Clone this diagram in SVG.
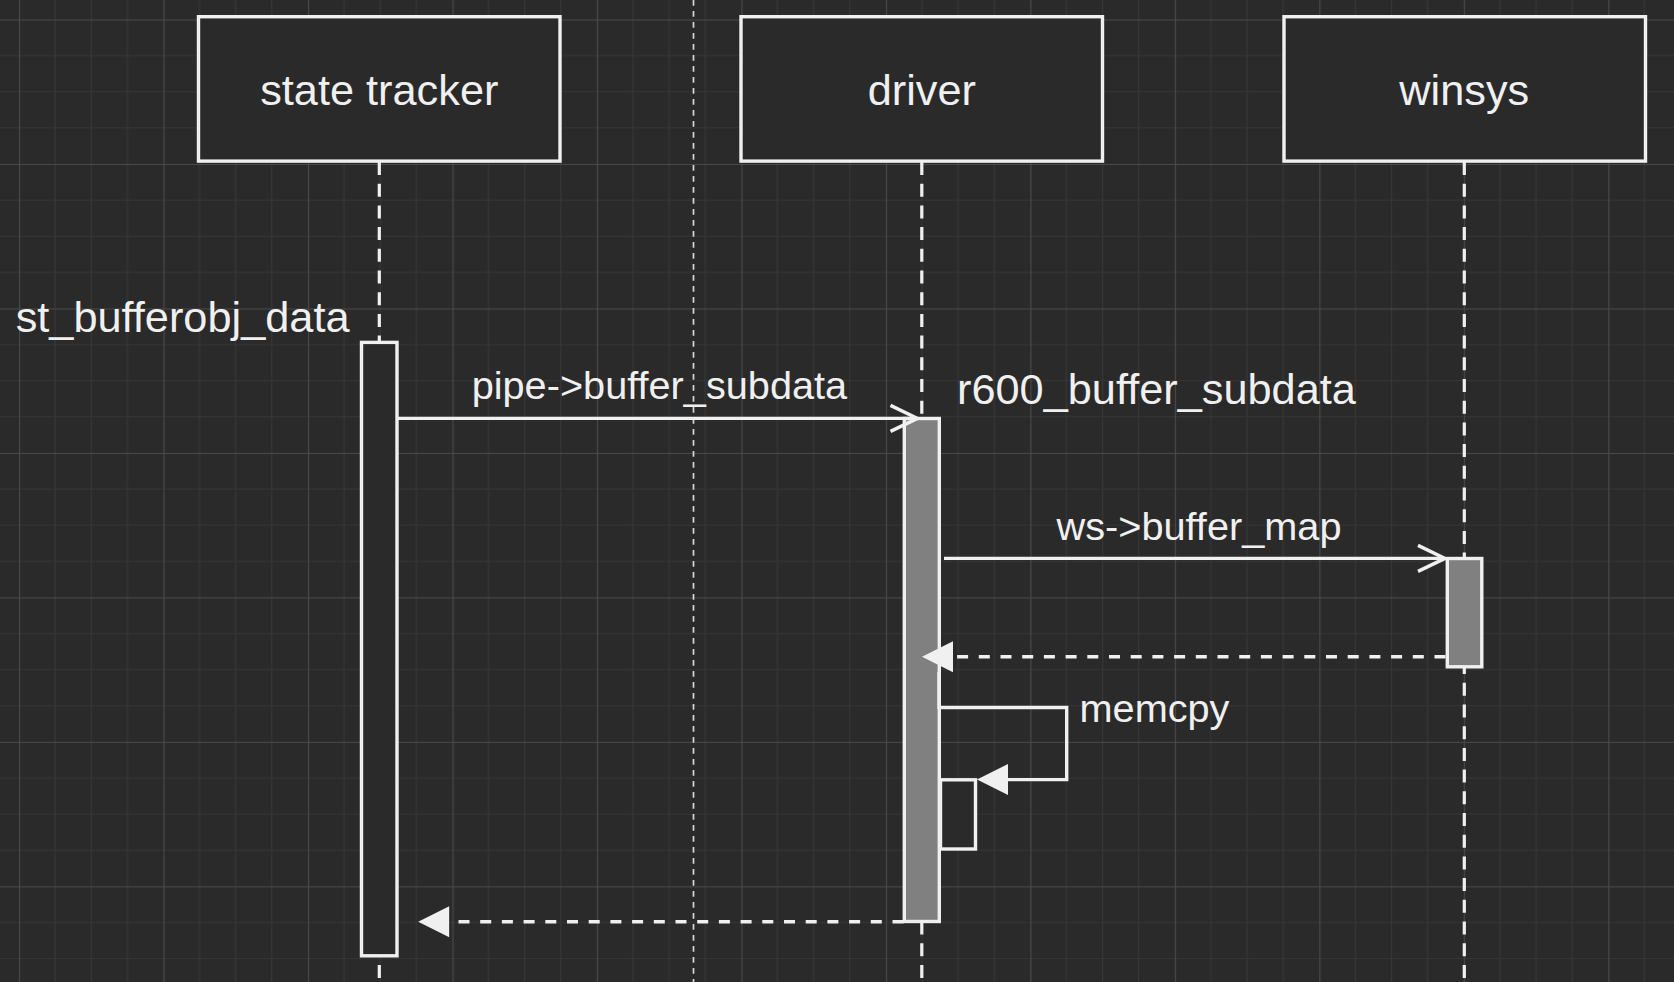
<svg xmlns="http://www.w3.org/2000/svg" width="1674" height="982" viewBox="0 0 1674 982">
<style>
  .box { fill: #2a2a2a; stroke: #f0f0f0; stroke-width: 3.4; }
  .bar { fill: #2a2a2a; stroke: #f0f0f0; stroke-width: 3.4; }
  .bar.gray { fill: #808080; }
  .life { stroke: #f0f0f0; stroke-width: 3.2; stroke-dasharray: 13 8.7; fill: none; }
  .msg { stroke: #f0f0f0; stroke-width: 3.4; fill: none; }
  .ret { stroke: #f0f0f0; stroke-width: 3.4; fill: none; stroke-dasharray: 11 10.7; }
  .guide { stroke: #d8d8d8; stroke-width: 1.7; stroke-dasharray: 5.7 5.3; fill: none; }
  .t { font-family: "Liberation Sans", Arial, Helvetica, sans-serif; fill: #f0f0f0; }
  .big { font-size: 43.3px; }
  .small { font-size: 39.7px; }
</style>
<defs>
  <pattern id="grid" patternUnits="userSpaceOnUse" x="19" y="19.5" width="144.48" height="144.48">
    <path d="M36.12 0V144.48M72.24 0V144.48M108.36 0V144.48M0 36.12H144.48M0 72.24H144.48M0 108.36H144.48" stroke="#363636" stroke-width="1.2" fill="none"/>
    <path d="M0.5 0V144.48M0 0.5H144.48" stroke="#4a4a4a" stroke-width="1.2" fill="none"/>
  </pattern>
  <marker id="open" markerUnits="userSpaceOnUse" orient="auto" refX="0" refY="0" markerWidth="40" markerHeight="40" viewBox="-30 -20 40 40" overflow="visible">
    <path d="M-27,-13 L0,0 L-27,13" fill="none" stroke="#f0f0f0" stroke-width="3.4"/>
  </marker>
  <marker id="filled" markerUnits="userSpaceOnUse" orient="auto" refX="0" refY="0" markerWidth="40" markerHeight="40" viewBox="-5 -20 40 40" overflow="visible">
    <polygon points="0,-15.5 31,0 0,15.5" fill="#f0f0f0"/>
  </marker>
</defs>

<rect x="0" y="0" width="1674" height="982" fill="#2a2a2a"/>
<rect x="0" y="0" width="1674" height="982" fill="url(#grid)"/>

<line class="guide" x1="693.5" y1="0" x2="693.5" y2="982"/>

<g id="lifelines">
  <line class="life" x1="379.3" y1="162" x2="379.3" y2="982"/>
  <line class="life" x1="921.8" y1="162" x2="921.8" y2="982"/>
  <line class="life" x1="1464.3" y1="162" x2="1464.3" y2="982"/>
</g>

<g id="node-state-tracker">
  <rect class="box" x="198.5" y="16.7" width="361.5" height="144.4"/>
  <text class="t big" x="379.3" y="105" text-anchor="middle">state tracker</text>
</g>
<g id="node-driver">
  <rect class="box" x="741" y="16.7" width="361.5" height="144.4"/>
  <text class="t big" x="921.8" y="105" text-anchor="middle">driver</text>
</g>
<g id="node-winsys">
  <rect class="box" x="1284" y="16.7" width="361.5" height="144.4"/>
  <text class="t big" x="1464.3" y="105" text-anchor="middle">winsys</text>
</g>

<g id="act-state-tracker">
  <rect class="bar" x="361.5" y="342.4" width="35.5" height="613.4"/>
  <text class="t big" x="349.5" y="331.7" text-anchor="end">st_bufferobj_data</text>
</g>
<g id="act-driver">
  <rect class="bar gray" x="904.3" y="418.5" width="35" height="503"/>
  <text class="t big" x="957" y="404">r600_buffer_subdata</text>
</g>
<g id="act-winsys">
  <rect class="bar gray" x="1447.3" y="558.5" width="34.5" height="108.3"/>
</g>
<g id="act-memcpy">
  <rect class="bar" x="940.5" y="779.8" width="35" height="69.2"/>
</g>

<g id="connectors">
  <line class="msg" x1="397" y1="418.4" x2="917.5" y2="418.4" marker-end="url(#open)"/>
  <text class="t small" x="659.4" y="399.3" text-anchor="middle">pipe-&gt;buffer_subdata</text>

  <line class="msg" x1="944" y1="558.4" x2="1445" y2="558.4" marker-end="url(#open)"/>
  <text class="t small" x="1199" y="540" text-anchor="middle">ws-&gt;buffer_map</text>

  <line class="ret" x1="1445.5" y1="656.7" x2="953" y2="656.7" marker-end="url(#filled)"/>

  <polyline class="msg" points="939,672 939,707.5 1066.7,707.5 1066.7,779.6 1008,779.6" marker-end="url(#filled)"/>
  <text class="t small" x="1079.5" y="721.7">memcpy</text>

  <line class="ret" x1="903.5" y1="921.7" x2="449.2" y2="921.7" marker-end="url(#filled)"/>
</g>
</svg>
